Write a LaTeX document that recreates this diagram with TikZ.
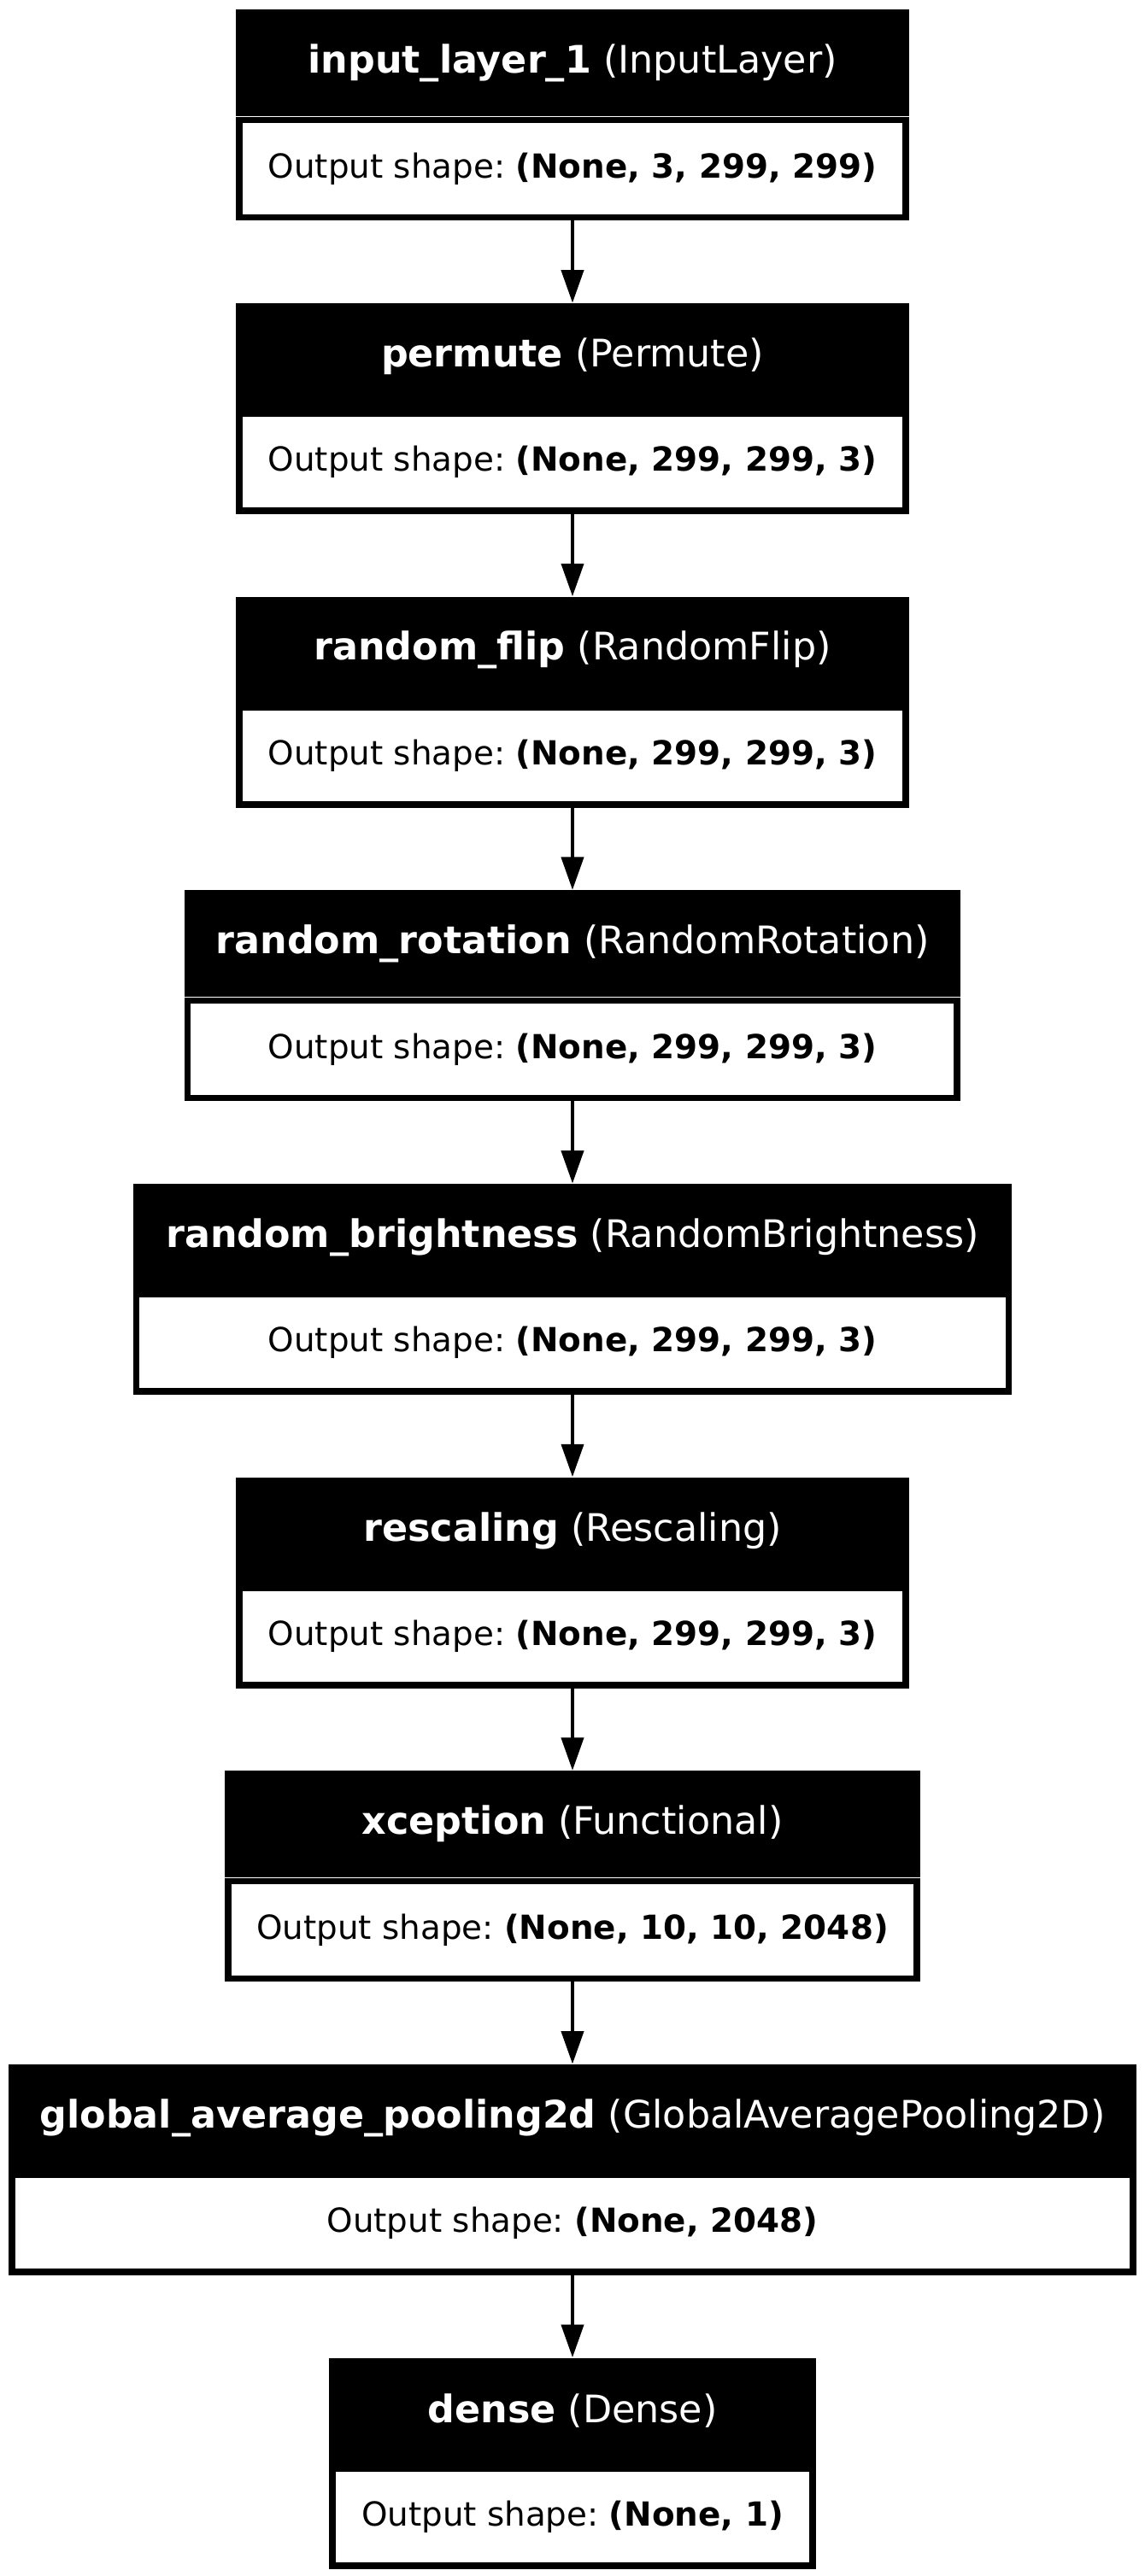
\documentclass[tikz,border=0pt]{standalone}
\usepackage{fontspec}
\setmainfont{DejaVu Sans}
\usepackage{tikz}
\usetikzlibrary{arrows.meta,positioning}

\newcommand\headfont{\fontsize{23.1pt}{27pt}\selectfont}
\newcommand\bodyfont{\fontsize{20.2pt}{24pt}\selectfont\frenchspacing}

\begin{document}
\begin{tikzpicture}[x=1pt,y=1pt,>={Triangle[length=20pt,width=13.5pt]},
    head/.style={fill=black,text=white,anchor=north,minimum height=65pt,inner sep=0pt,font=\headfont},
    outbox/.style={draw=black,line width=4pt,fill=white,minimum height=59.3pt,inner sep=0pt,font=\bodyfont},
    link/.style={->,line width=2.2pt}]
    \useasboundingbox (0,0) rectangle (697,-1568.8) ;

    \def\mx{348.5} \def\dy{178.75} \def\ty{-5.7}

    % layers, top to bottom
    \node [head,minimum width=410pt] (inp) at (\mx,\ty) {\textbf{input\_layer\_1} (InputLayer)} ;
    \node [outbox,minimum width=406pt,below=0pt of inp] (inp-o) {Output shape: \textbf{(None, 3, 299, 299)}} ;

    \node [head,minimum width=410pt] (perm) at (\mx,\ty-\dy) {\textbf{permute} (Permute)} ;
    \node [outbox,minimum width=406pt,below=0pt of perm] (perm-o) {Output shape: \textbf{(None, 299, 299, 3)}} ;

    \node [head,minimum width=410pt] (flip) at (\mx,\ty-2*\dy) {\textbf{random\_flip} (RandomFlip)} ;
    \node [outbox,minimum width=406pt,below=0pt of flip] (flip-o) {Output shape: \textbf{(None, 299, 299, 3)}} ;

    \node [head,minimum width=472.5pt] (rot) at (\mx,\ty-3*\dy) {\textbf{random\_rotation} (RandomRotation)} ;
    \node [outbox,minimum width=468.5pt,below=0pt of rot] (rot-o) {Output shape: \textbf{(None, 299, 299, 3)}} ;

    \node [head,minimum width=535pt] (bright) at (\mx,\ty-4*\dy) {\textbf{random\_brightness} (RandomBrightness)} ;
    \node [outbox,minimum width=531pt,below=0pt of bright] (bright-o) {Output shape: \textbf{(None, 299, 299, 3)}} ;

    \node [head,minimum width=410pt] (resc) at (\mx,\ty-5*\dy) {\textbf{rescaling} (Rescaling)} ;
    \node [outbox,minimum width=406pt,below=0pt of resc] (resc-o) {Output shape: \textbf{(None, 299, 299, 3)}} ;

    \node [head,minimum width=423pt] (xcep) at (\mx,\ty-6*\dy) {\textbf{xception} (Functional)} ;
    \node [outbox,minimum width=419pt,below=0pt of xcep] (xcep-o) {Output shape: \textbf{(None, 10, 10, 2048)}} ;

    \node [head,minimum width=686.5pt] (gap) at (\mx,\ty-7*\dy) {\textbf{global\_average\_pooling2d} (GlobalAveragePooling2D)} ;
    \node [outbox,minimum width=682.5pt,below=0pt of gap] (gap-o) {Output shape: \textbf{(None, 2048)}} ;

    \node [head,minimum width=296pt] (dense) at (\mx,\ty-8*\dy) {\textbf{dense} (Dense)} ;
    \node [outbox,minimum width=292pt,below=0pt of dense] (dense-o) {Output shape: \textbf{(None, 1)}} ;

    % arrows
    \draw [link] (inp-o) -- (perm) ;
    \draw [link] (perm-o) -- (flip) ;
    \draw [link] (flip-o) -- (rot) ;
    \draw [link] (rot-o) -- (bright) ;
    \draw [link] (bright-o) -- (resc) ;
    \draw [link] (resc-o) -- (xcep) ;
    \draw [link] (xcep-o) -- (gap) ;
    \draw [link] (gap-o) -- (dense) ;
\end{tikzpicture}
\end{document}
